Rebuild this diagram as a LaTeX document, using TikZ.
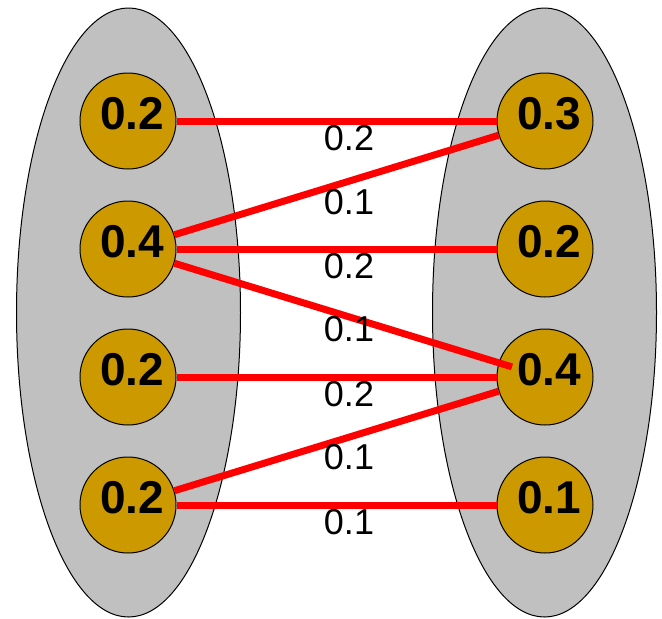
\documentclass[tikz,border=0pt]{standalone}
\usepackage{fontspec}
\setmainfont{Liberation Sans}
\usetikzlibrary{shapes.geometric}
\definecolor{setgray}{HTML}{C0C0C0}
\definecolor{massgold}{HTML}{CC9900}
\definecolor{flowred}{HTML}{FF0000}

\begin{document}
\begin{tikzpicture}[x=1pt,y=-1pt,
  setblob/.style={ellipse, draw=black, line width=1pt, fill=setgray,
    minimum width=224pt, minimum height=609pt, inner sep=0pt},
  mass/.style={circle, draw=black, line width=1pt, fill=massgold,
    minimum size=96pt, inner sep=0pt},
  masstext/.style={font=\fontsize{46}{50}\selectfont\bfseries, inner sep=0pt,
    xshift=4pt, yshift=7pt},
  flow/.style={draw=flowred, line width=7pt},
  weight/.style={font=\fontsize{36}{40}\selectfont, inner sep=0pt}]
\useasboundingbox (0,0) rectangle (662,619);

% the two sets
\node[setblob] (leftset) at (128.5,312.5) {};
\node[setblob] (rightset) at (544.5,312.5) {};

% source masses
\node[mass, label={[masstext]center:0.2}] (L1) at (128,121) {};
\node[mass, label={[masstext]center:0.4}] (L2) at (128,249) {};
\node[mass, label={[masstext]center:0.2}] (L3) at (128,377) {};
\node[mass, label={[masstext]center:0.2}] (L4) at (128,505) {};

% target masses
\node[mass, label={[masstext]center:0.3}] (R1) at (545,121) {};
\node[mass, label={[masstext]center:0.2}] (R2) at (545,249) {};
\node[mass, label={[masstext]center:0.4}] (R3) at (545,377) {};
\node[mass, label={[masstext]center:0.1}] (R4) at (545,505) {};

% transport plan
\draw[flow] (L1) -- (R1);
\draw[flow] (L2) -- (R1);
\draw[flow] (L2) -- (R2);
\draw[flow, shorten >=-14pt] (L2) -- (R3);
\draw[flow] (L3) -- (R3);
\draw[flow] (L4) -- (R3);
\draw[flow] (L4) -- (R4);

% flow weights
\node[weight] (w1) at (349,138.5) {0.2};
\node[weight] (w2) at (349,202.5) {0.1};
\node[weight] (w3) at (349,266) {0.2};
\node[weight] (w4) at (349,329.5) {0.1};
\node[weight] (w5) at (349,394.5) {0.2};
\node[weight] (w6) at (349,457.5) {0.1};
\node[weight] (w7) at (349,522.5) {0.1};
\end{tikzpicture}
\end{document}
